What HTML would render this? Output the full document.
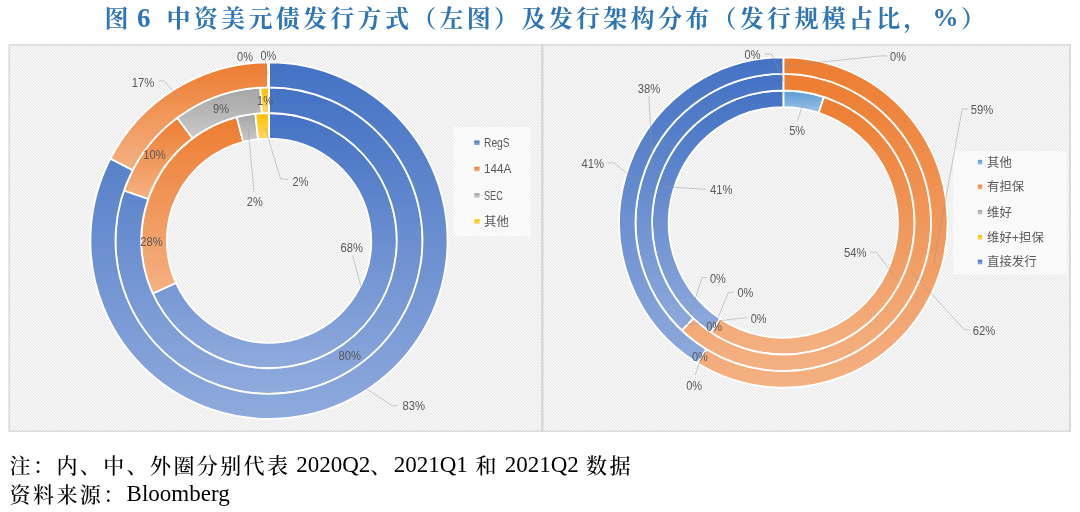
<!DOCTYPE html>
<html lang="zh"><head><meta charset="utf-8"><title>图 6</title>
<style>
html,body{margin:0;padding:0;background:#fff}
body{width:1080px;height:512px;position:relative;overflow:hidden}
.title{position:absolute;left:0;top:0;width:1080px;height:40px;color:#2E75B6;font-family:"Liberation Serif","Noto Serif CJK SC",serif;font-weight:700;white-space:nowrap}
.title span{position:absolute;top:0;line-height:36px}
.title .cj{top:1px}
.cj{font-size:24px;letter-spacing:3.3px;font-weight:700}
.la{font-size:27px}
.foot{position:absolute;left:9.6px;white-space:nowrap;color:#000;font-family:"Liberation Serif","Noto Serif CJK SC",serif;font-size:23px;line-height:28px}
.foot .c{font-size:21px;letter-spacing:2.4px;font-weight:500;position:relative;top:1px}
svg text{font-family:"Liberation Sans","Noto Sans CJK SC",sans-serif}
</style></head><body>
<div class="title"><span class="cj" style="left:104.5px">图</span><span class="la" style="left:137px">6</span><span class="cj" style="left:166.5px">中资美元债发行方式（左图）及发行架构分布（发行规模占比，</span><span class="la" style="left:932.5px;font-size:26px">%</span><span class="cj" style="left:961px">）</span></div>
<svg width="1080" height="512" viewBox="0 0 1080 512" style="position:absolute;left:0;top:0">
<defs>
<pattern id="hatch" width="3" height="3" patternUnits="userSpaceOnUse"><path d="M-1,-1L4,4M2,-1L7,4M-4,-1L1,4" stroke="#e5e5e5" stroke-width="1.0" fill="none"/></pattern>
<linearGradient id="g-blue" x1="0" y1="0" x2="0" y2="1"><stop offset="0" stop-color="#4472C4"/><stop offset="1" stop-color="#8FAADC"/></linearGradient>
<linearGradient id="g-orange" x1="0" y1="0" x2="0" y2="1"><stop offset="0" stop-color="#ED7D31"/><stop offset="1" stop-color="#F4B183"/></linearGradient>
<linearGradient id="g-gray" x1="0" y1="0" x2="0" y2="1"><stop offset="0" stop-color="#A5A5A5"/><stop offset="1" stop-color="#C9C9C9"/></linearGradient>
<linearGradient id="g-yellow" x1="0" y1="0" x2="0" y2="1"><stop offset="0" stop-color="#FFC000"/><stop offset="1" stop-color="#FFD966"/></linearGradient>
<linearGradient id="g-lblue" x1="0" y1="0" x2="0" y2="1"><stop offset="0" stop-color="#5B9BD5"/><stop offset="1" stop-color="#9DC3E6"/></linearGradient>
</defs>
<rect x="8.5" y="44.3" width="1062.5" height="387.4" fill="#f8f8f8"/>
<rect x="8.5" y="44.3" width="1062.5" height="387.4" fill="url(#hatch)"/>
<rect x="9.2" y="45.0" width="1061.1" height="386.2" fill="none" stroke="#d9d9d9" stroke-width="1.4"/>
<rect x="541" y="44.3" width="2.6" height="387.4" fill="#d9d9d9"/>
<rect x="1069.2" y="44.3" width="1.8" height="387.4" fill="#d9d9d9"/>
<rect x="453.7" y="127" width="76.5" height="109.3" fill="#fff" fill-opacity="0.62"/>
<rect x="474.2" y="140.5" width="5.4" height="4.6" fill="url(#g-blue)"/>
<text x="484.0" y="147.1" font-size="12.4" fill="#595959" textLength="25.6" lengthAdjust="spacingAndGlyphs">RegS</text>
<rect x="474.2" y="166.7" width="5.4" height="4.6" fill="url(#g-orange)"/>
<text x="484.0" y="173.3" font-size="12.4" fill="#595959" textLength="27.4" lengthAdjust="spacingAndGlyphs">144A</text>
<rect x="474.2" y="193.1" width="5.4" height="4.6" fill="url(#g-gray)"/>
<text x="484.0" y="199.7" font-size="12.4" fill="#595959" textLength="18.8" lengthAdjust="spacingAndGlyphs">SEC</text>
<rect x="474.2" y="219.2" width="5.4" height="4.6" fill="url(#g-yellow)"/>
<text x="484.0" y="225.9" font-size="12.4" fill="#595959">其他</text>
<rect x="953.2" y="151.2" width="113.6" height="123.4" fill="#fff" fill-opacity="0.62"/>
<rect x="977.8" y="159.9" width="4.5" height="4.6" fill="url(#g-lblue)"/>
<text x="987.0" y="166.6" font-size="12.4" fill="#595959">其他</text>
<rect x="977.8" y="184.7" width="4.5" height="4.6" fill="url(#g-orange)"/>
<text x="987.0" y="191.4" font-size="12.4" fill="#595959">有担保</text>
<rect x="977.8" y="209.9" width="4.5" height="4.6" fill="url(#g-gray)"/>
<text x="987.0" y="216.6" font-size="12.4" fill="#595959">维好</text>
<rect x="977.8" y="235.1" width="4.5" height="4.6" fill="url(#g-yellow)"/>
<text x="987.0" y="241.8" font-size="12.4" fill="#595959">维好+担保</text>
<rect x="977.8" y="259.7" width="4.5" height="4.6" fill="url(#g-blue)"/>
<text x="987.0" y="266.4" font-size="12.4" fill="#595959">直接发行</text>
<g transform="translate(0 0.3609) scale(1 0.9985)">
<path d="M269.00,112.80A127.8,127.8 0 1 1 152.69,293.56L175.99,282.95A102.2,102.2 0 1 0 269.00,138.40Z" fill="url(#g-blue)" stroke="#fff" stroke-width="1.8" stroke-linejoin="miter"/>
<path d="M152.69,293.56A127.8,127.8 0 0 1 236.75,116.94L243.21,141.71A102.2,102.2 0 0 0 175.99,282.95Z" fill="url(#g-orange)" stroke="#fff" stroke-width="1.8" stroke-linejoin="miter"/>
<path d="M236.75,116.94A127.8,127.8 0 0 1 255.38,113.53L258.10,138.98A102.2,102.2 0 0 0 243.21,141.71Z" fill="url(#g-gray)" stroke="#fff" stroke-width="1.8" stroke-linejoin="miter"/>
<path d="M255.38,113.53A127.8,127.8 0 0 1 269.00,112.80L269.00,138.40A102.2,102.2 0 0 0 258.10,138.98Z" fill="url(#g-yellow)" stroke="#fff" stroke-width="1.8" stroke-linejoin="miter"/>
<path d="M269.00,87.10A153.5,153.5 0 1 1 123.93,190.42L148.22,198.82A127.8,127.8 0 1 0 269.00,112.80Z" fill="url(#g-blue)" stroke="#fff" stroke-width="1.8" stroke-linejoin="miter"/>
<path d="M123.93,190.42A153.5,153.5 0 0 1 177.22,117.56L192.59,138.16A127.8,127.8 0 0 0 148.22,198.82Z" fill="url(#g-orange)" stroke="#fff" stroke-width="1.8" stroke-linejoin="miter"/>
<path d="M177.22,117.56A153.5,153.5 0 0 1 260.32,87.35L261.78,113.00A127.8,127.8 0 0 0 192.59,138.16Z" fill="url(#g-gray)" stroke="#fff" stroke-width="1.8" stroke-linejoin="miter"/>
<path d="M260.32,87.35A153.5,153.5 0 0 1 269.00,87.10L269.00,112.80A127.8,127.8 0 0 0 261.78,113.00Z" fill="url(#g-yellow)" stroke="#fff" stroke-width="1.8" stroke-linejoin="miter"/>
<path d="M269.00,62.05A178.55,178.55 0 1 1 110.42,158.54L132.67,170.05A153.5,153.5 0 1 0 269.00,87.10Z" fill="url(#g-blue)" stroke="#fff" stroke-width="1.8" stroke-linejoin="miter"/>
<path d="M110.42,158.54A178.55,178.55 0 0 1 267.88,62.05L268.04,87.10A153.5,153.5 0 0 0 132.67,170.05Z" fill="url(#g-orange)" stroke="#fff" stroke-width="1.8" stroke-linejoin="miter"/>
<path d="M267.88,62.05A178.55,178.55 0 0 1 268.44,62.05L268.52,87.10A153.5,153.5 0 0 0 268.04,87.10Z" fill="url(#g-gray)" stroke="#fff" stroke-width="1.8" stroke-linejoin="miter"/>
<path d="M268.44,62.05A178.55,178.55 0 0 1 269.00,62.05L269.00,87.10A153.5,153.5 0 0 0 268.52,87.10Z" fill="url(#g-yellow)" stroke="#fff" stroke-width="1.8" stroke-linejoin="miter"/>
</g>
<g transform="translate(0 -1.3350) scale(1 1.006)">
<path d="M783.35,91.30A131.2,131.2 0 0 1 823.89,97.72L818.76,113.51A114.6,114.6 0 0 0 783.35,107.90Z" fill="url(#g-lblue)" stroke="#fff" stroke-width="1.8" stroke-linejoin="miter"/>
<path d="M823.89,97.72A131.2,131.2 0 1 1 710.70,331.75L719.89,317.93A114.6,114.6 0 1 0 818.76,113.51Z" fill="url(#g-orange)" stroke="#fff" stroke-width="1.8" stroke-linejoin="miter"/>
<path d="M710.70,331.75A131.2,131.2 0 0 1 783.35,91.30L783.35,107.90A114.6,114.6 0 0 0 719.89,317.93Z" fill="url(#g-blue)" stroke="#fff" stroke-width="1.8" stroke-linejoin="miter"/>
<path d="M783.35,74.80A147.7,147.7 0 1 1 681.90,329.85L693.24,317.86A131.2,131.2 0 1 0 783.35,91.30Z" fill="url(#g-orange)" stroke="#fff" stroke-width="1.8" stroke-linejoin="miter"/>
<path d="M681.90,329.85A147.7,147.7 0 0 1 783.35,74.80L783.35,91.30A131.2,131.2 0 0 0 693.24,317.86Z" fill="url(#g-blue)" stroke="#fff" stroke-width="1.8" stroke-linejoin="miter"/>
<path d="M783.35,58.30A164.2,164.2 0 1 1 697.56,362.50L706.18,348.43A147.7,147.7 0 1 0 783.35,74.80Z" fill="url(#g-orange)" stroke="#fff" stroke-width="1.8" stroke-linejoin="miter"/>
<path d="M697.56,362.50A164.2,164.2 0 0 1 783.35,58.30L783.35,74.80A147.7,147.7 0 0 0 706.18,348.43Z" fill="url(#g-blue)" stroke="#fff" stroke-width="1.8" stroke-linejoin="miter"/>
</g>
<g fill="none" stroke="#969696" stroke-width="0.85" stroke-opacity="0.55">
<polyline points="265.0,59.8 267.9,75.0"/>
<polyline points="159.0,80.9 164.0,80.9 178.0,96.7"/>
<polyline points="288.0,179.5 280.5,178.8 265.3,128.0"/>
<polyline points="254.0,192.0 248.0,128.0"/>
<polyline points="352.7,255.3 364.6,300.6"/>
<polyline points="397.5,405.9 392.2,405.6 362.0,386.0"/>
<polyline points="764.4,54.0 771.6,54.0 784.0,81.5"/>
<polyline points="648.8,95.6 652.8,170.6"/>
<polyline points="607.5,162.8 613.8,162.8 634.0,179.0"/>
<polyline points="706.0,189.3 665.3,186.8"/>
<polyline points="797.5,121.5 803.8,100.2"/>
<polyline points="887.2,55.9 880.0,55.9 784.0,65.9"/>
<polyline points="968.4,109.0 962.2,109.0 933.5,265.5"/>
<polyline points="870.4,252.2 876.3,252.2 895.0,276.8"/>
<polyline points="970.0,330.2 964.1,329.5 913.8,274.5"/>
<polyline points="707.5,277.5 702.0,277.5 687.0,324.6"/>
<polyline points="734.0,292.3 728.6,292.3 714.7,325.7"/>
<polyline points="747.3,317.5 741.5,318.2 687.0,324.6"/>
<polyline points="695.2,375.3 701.5,355.9"/>
</g>
<g fill="#595959" font-family="'Liberation Sans','Noto Sans CJK SC',sans-serif">
<text x="245.0" y="61.0" text-anchor="middle" font-size="12" textLength="15.9" lengthAdjust="spacingAndGlyphs">0%</text>
<text x="268.4" y="59.7" text-anchor="middle" font-size="12" textLength="15.9" lengthAdjust="spacingAndGlyphs">0%</text>
<text x="143.1" y="86.5" text-anchor="middle" font-size="12" textLength="22.5" lengthAdjust="spacingAndGlyphs">17%</text>
<text x="221.0" y="113.1" text-anchor="middle" font-size="12" textLength="15.9" lengthAdjust="spacingAndGlyphs">9%</text>
<text x="265.0" y="105.0" text-anchor="middle" font-size="12" textLength="15.9" lengthAdjust="spacingAndGlyphs">1%</text>
<text x="154.5" y="158.7" text-anchor="middle" font-size="12" textLength="22.5" lengthAdjust="spacingAndGlyphs">10%</text>
<text x="300.5" y="186.1" text-anchor="middle" font-size="12" textLength="15.9" lengthAdjust="spacingAndGlyphs">2%</text>
<text x="254.8" y="206.4" text-anchor="middle" font-size="12" textLength="15.9" lengthAdjust="spacingAndGlyphs">2%</text>
<text x="151.5" y="245.6" text-anchor="middle" font-size="12" textLength="22.5" lengthAdjust="spacingAndGlyphs">28%</text>
<text x="351.8" y="251.5" text-anchor="middle" font-size="12" textLength="22.5" lengthAdjust="spacingAndGlyphs">68%</text>
<text x="349.8" y="359.5" text-anchor="middle" font-size="12" textLength="22.5" lengthAdjust="spacingAndGlyphs">80%</text>
<text x="413.8" y="410.2" text-anchor="middle" font-size="12" textLength="22.5" lengthAdjust="spacingAndGlyphs">83%</text>
<text x="752.5" y="59.3" text-anchor="middle" font-size="12" textLength="15.9" lengthAdjust="spacingAndGlyphs">0%</text>
<text x="649.0" y="92.5" text-anchor="middle" font-size="12" textLength="22.5" lengthAdjust="spacingAndGlyphs">38%</text>
<text x="592.8" y="167.5" text-anchor="middle" font-size="12" textLength="22.5" lengthAdjust="spacingAndGlyphs">41%</text>
<text x="721.2" y="193.9" text-anchor="middle" font-size="12" textLength="22.5" lengthAdjust="spacingAndGlyphs">41%</text>
<text x="797.2" y="135.3" text-anchor="middle" font-size="12" textLength="15.9" lengthAdjust="spacingAndGlyphs">5%</text>
<text x="898.0" y="60.8" text-anchor="middle" font-size="12" textLength="15.9" lengthAdjust="spacingAndGlyphs">0%</text>
<text x="982.0" y="113.8" text-anchor="middle" font-size="12" textLength="22.5" lengthAdjust="spacingAndGlyphs">59%</text>
<text x="855.2" y="257.3" text-anchor="middle" font-size="12" textLength="22.5" lengthAdjust="spacingAndGlyphs">54%</text>
<text x="984.0" y="335.0" text-anchor="middle" font-size="12" textLength="22.5" lengthAdjust="spacingAndGlyphs">62%</text>
<text x="717.9" y="282.8" text-anchor="middle" font-size="12" textLength="15.9" lengthAdjust="spacingAndGlyphs">0%</text>
<text x="745.4" y="297.3" text-anchor="middle" font-size="12" textLength="15.9" lengthAdjust="spacingAndGlyphs">0%</text>
<text x="758.7" y="322.7" text-anchor="middle" font-size="12" textLength="15.9" lengthAdjust="spacingAndGlyphs">0%</text>
<text x="714.1" y="330.7" text-anchor="middle" font-size="12" textLength="15.9" lengthAdjust="spacingAndGlyphs">0%</text>
<text x="699.9" y="360.9" text-anchor="middle" font-size="12" textLength="15.9" lengthAdjust="spacingAndGlyphs">0%</text>
<text x="694.2" y="390.3" text-anchor="middle" font-size="12" textLength="15.9" lengthAdjust="spacingAndGlyphs">0%</text>
</g>
</svg>
<div class="foot" style="top:451px"><span class="c">注：内、中、外圈分别代表</span> 2020Q2<span class="c">、</span>2021Q1 <span class="c" style="margin-left:2px">和</span> 2021Q2 <span class="c" style="margin-left:1.5px">数据</span></div>
<div class="foot" style="top:480px"><span class="c">资料来源：</span>Bloomberg</div>
</body></html>
